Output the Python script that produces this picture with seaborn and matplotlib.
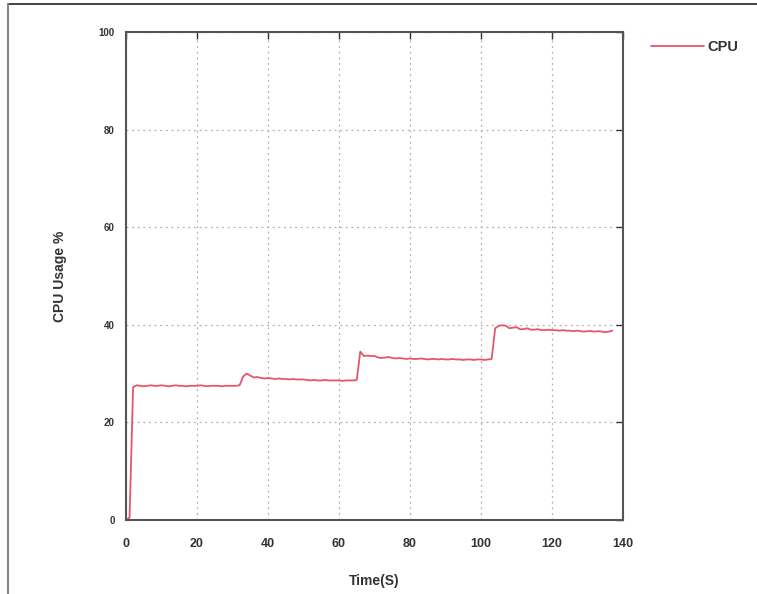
import matplotlib
matplotlib.use("Agg")
import matplotlib.pyplot as plt
import seaborn as sns
import pandas as pd
from matplotlib.lines import Line2D

time_s = list(range(0, 138))
cpu_usage = [
    0.0, 0.5, 27.2, 27.6, 27.5, 27.4, 27.5, 27.6, 27.5, 27.5,   # 0-9
    27.6, 27.5, 27.4, 27.5, 27.6, 27.5, 27.5, 27.4, 27.5, 27.5,  # 10-19
    27.5, 27.6, 27.5, 27.4, 27.5, 27.5, 27.5, 27.4, 27.5, 27.5,  # 20-29
    27.5, 27.5, 27.6, 29.4, 30.0, 29.6, 29.2, 29.3, 29.1, 29.0,  # 30-39
    29.1, 29.0, 28.9, 29.0, 28.9, 28.9, 28.8, 28.9, 28.8, 28.8,  # 40-49
    28.8, 28.7, 28.6, 28.7, 28.6, 28.6, 28.7, 28.6, 28.6, 28.6,  # 50-59
    28.6, 28.5, 28.6, 28.6, 28.6, 28.7, 34.5, 33.6, 33.7, 33.6,  # 60-69
    33.6, 33.3, 33.2, 33.3, 33.4, 33.2, 33.1, 33.2, 33.1, 33.0,  # 70-79
    33.1, 33.0, 33.0, 33.1, 33.0, 32.9, 33.0, 33.0, 32.9, 33.0,  # 80-89
    32.9, 32.9, 33.0, 32.9, 32.9, 32.8, 32.9, 32.9, 32.8, 32.9,  # 90-99
    32.9, 32.8, 32.9, 33.0, 39.3, 39.8, 39.9, 39.8, 39.3, 39.4,  # 100-109
    39.5, 39.1, 39.1, 39.3, 39.0, 39.0, 39.1, 38.9, 38.9, 39.0,  # 110-119
    38.9, 38.9, 38.8, 38.9, 38.8, 38.8, 38.7, 38.8, 38.7, 38.6,  # 120-129
    38.7, 38.7, 38.6, 38.7, 38.6, 38.5, 38.6, 38.8,              # 130-137
]
series_name = "CPU"
x_ticks = [0, 20, 40, 60, 80, 100, 120, 140]
y_ticks = [0, 20, 40, 60, 80, 100]

df = pd.DataFrame({"Time": time_s, "CPU": cpu_usage})

sns.set_style("white")
plt.rcParams["font.family"] = ["Liberation Sans", "DejaVu Sans"]
plt.rcParams["font.weight"] = "bold"

fig = plt.figure(figsize=(7.57, 5.94), dpi=100)
ax = fig.add_axes([126 / 757, 1 - 520 / 594, (623 - 126) / 757, (520 - 32) / 594])

line_color = "#e5566a"
sns.lineplot(data=df, x="Time", y="CPU", ax=ax, color=line_color, linewidth=1.3, legend=False)

ax.set_xlim(0, 140)
ax.set_ylim(0, 100)
ax.set_xticks(x_ticks)
ax.set_yticks(y_ticks)
ax.set_xticklabels([str(v) for v in x_ticks], fontsize=9, fontweight="bold", color="#333333")
ax.set_yticklabels([str(v) for v in y_ticks], fontsize=7, fontweight="bold", color="#333333")
ax.tick_params(direction="in", length=5, width=1, top=True, right=True, colors="#333333",
               labelcolor="#333333")
ax.tick_params(axis="x", pad=13)
ax.tick_params(axis="y", pad=8)
ax.grid(True, linestyle=(0, (1.5, 3)), color="#b0b0b0", linewidth=0.9)
for s in ax.spines.values():
    s.set_color("#555555")
    s.set_linewidth(1.5)

ax.set_xlabel("Time(S)", fontsize=10, fontweight="bold", color="#333333", labelpad=17)
ax.set_ylabel("CPU Usage %", fontsize=10, fontweight="bold", color="#333333", labelpad=23)

handle = Line2D([0], [0], color=line_color, linewidth=1.3)
leg = fig.legend([handle], [series_name], loc="upper left", bbox_to_anchor=(638 / 757, 1 - 27 / 594),
                 frameon=False, handlelength=3.6, handletextpad=0.25, markerfirst=True,
                 prop={"weight": "bold", "size": 10.5})
for t in leg.get_texts():
    t.set_color("#333333")

# page frame lines
fig.add_artist(Line2D([8 / 757, 1], [1 - 4 / 594, 1 - 4 / 594], transform=fig.transFigure,
                      color="#222222", linewidth=1.2))
fig.add_artist(Line2D([8 / 757, 8 / 757], [0, 1 - 4 / 594], transform=fig.transFigure,
                      color="#888888", linewidth=1.5))

fig.savefig("out.png", dpi=100)
